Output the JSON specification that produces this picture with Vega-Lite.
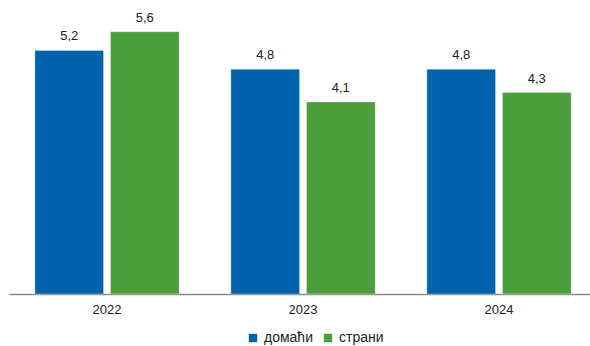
{
  "$schema": "https://vega.github.io/schema/vega-lite/v6.json",
  "width": 588,
  "height": 281,
  "autosize": "none",
  "padding": {"left": 9, "top": 13, "right": 0, "bottom": 52},
  "background": "white",
  "data": {
    "values": [
      {"year": "2022", "series": "домаћи", "value": 5.2},
      {"year": "2022", "series": "страни", "value": 5.6},
      {"year": "2023", "series": "домаћи", "value": 4.8},
      {"year": "2023", "series": "страни", "value": 4.1},
      {"year": "2024", "series": "домаћи", "value": 4.8},
      {"year": "2024", "series": "страни", "value": 4.3}
    ]
  },
  "encoding": {
    "x": {
      "field": "year", "type": "nominal", "title": null,
      "scale": {"paddingInner": 0, "paddingOuter": 0},
      "axis": {"labelAngle": 0, "ticks": false, "domainColor": "#8c8c8c", "domainWidth": 1.5, "labelPadding": 9, "labelFontSize": 13, "labelColor": "#222222", "labelFont": "Liberation Sans"}
    },
    "xOffset": {"field": "series", "type": "nominal", "scale": {"paddingInner": 0.092, "paddingOuter": 0.342}},
    "y": {"field": "value", "type": "quantitative", "scale": {"domain": [0, 6], "nice": false}, "axis": null}
  },
  "layer": [
    {
      "mark": {"type": "bar", "stroke": "#ffffff", "strokeWidth": 0.5, "strokeOpacity": 0.6},
      "encoding": {
        "color": {
          "field": "series", "type": "nominal",
          "scale": {"domain": ["домаћи", "страни"], "range": ["#0063AC", "#4A9E3B"]},
          "legend": {
            "title": null, "orient": "none", "direction": "horizontal",
            "legendX": 237, "legendY": 318,
            "symbolType": "square", "symbolSize": 70, "symbolStrokeWidth": 0,
            "labelFontSize": 14, "labelFont": "Liberation Sans", "labelColor": "#222222",
            "columnPadding": 8, "labelOffset": 4
          }
        }
      }
    },
    {
      "mark": {"type": "text", "baseline": "bottom", "dy": -7, "fontSize": 13, "font": "Liberation Sans", "color": "#222222"},
      "encoding": {
        "text": {"field": "value", "type": "quantitative", "format": ".1f"}
      }
    }
  ],
  "config": {
    "view": {"stroke": null},
    "locale": {"number": {"decimal": ",", "thousands": ".", "grouping": [3], "currency": ["", " €"]}}
  }
}
